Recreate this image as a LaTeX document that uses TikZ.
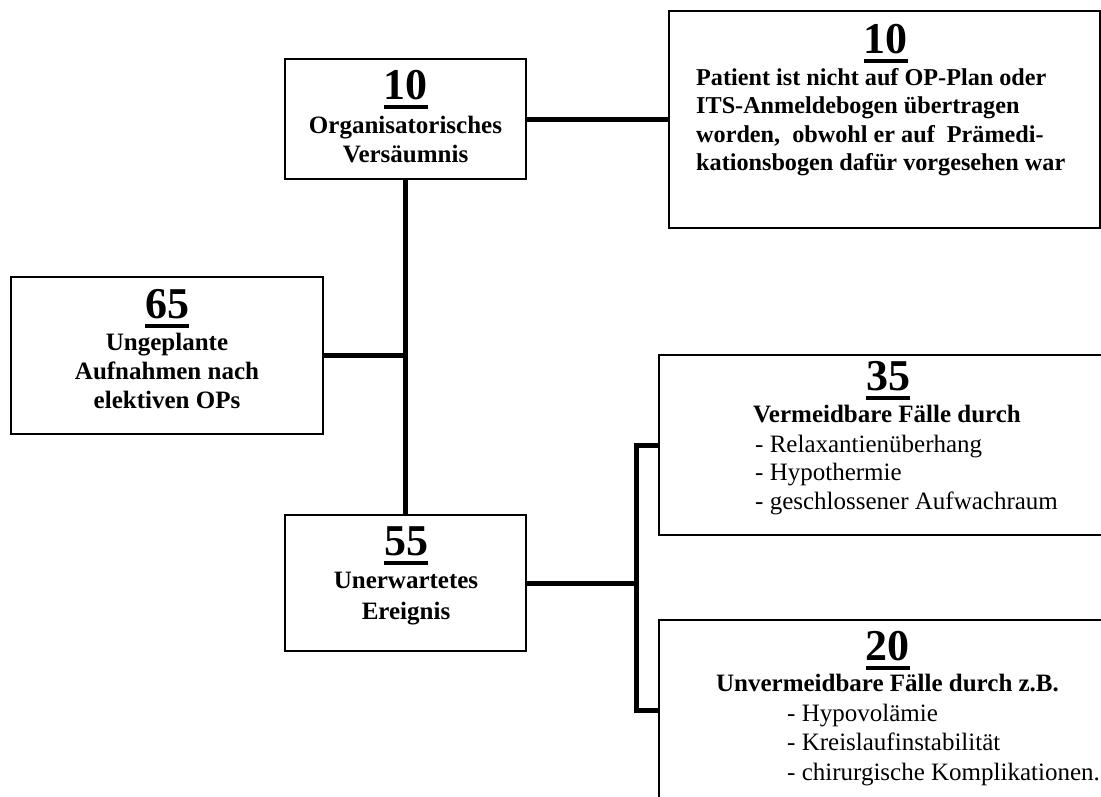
\documentclass[tikz,border=0pt]{standalone}
\usepackage{fontspec}
\setmainfont{Liberation Serif}
\newcommand\unum[1]{\setbox0\hbox{#1}\rlap{\raisebox{-10pt}{\rule{\wd0}{4.5pt}}}\box0}
\begin{document}
\begin{tikzpicture}[x=1pt,y=-1pt,
  box/.style={draw, line width=1.5pt, inner sep=0pt},
  conn/.style={line width=5pt},
  num/.style={font=\fontsize{44}{44}\selectfont\bfseries, anchor=base, inner sep=0pt},
  bt/.style={font=\fontsize{25}{28}\selectfont\bfseries, anchor=base, inner sep=0pt},
  btl/.style={font=\fontsize{24.2}{28}\selectfont\bfseries, anchor=base west, inner sep=0pt},
  rt/.style={font=\fontsize{25}{28}\selectfont, anchor=base west, inner sep=0pt}]
\useasboundingbox (0,0) rectangle (1101,796);
\clip (0,0) rectangle (1101,796);
\fill[white] (0,0) rectangle (1101,796);

% boxes
\node[box, minimum width=241pt, minimum height=120pt] (A) at (405.5,119) {};
\node[box, minimum width=431pt, minimum height=217pt] (B) at (884.5,119.5) {};
\node[box, minimum width=312pt, minimum height=157pt] (C) at (167,355.5) {};
\node[box, minimum width=241pt, minimum height=136pt] (D) at (405.5,583) {};
\node[box, minimum width=451pt, minimum height=180pt] (E) at (884.5,445) {};
\node[box, minimum width=451pt, minimum height=180pt] (F) at (884.5,710) {};

% connectors
\coordinate (bx) at (636,583);
\draw[conn] (A.east) -- (A.east -| B.west);
\draw[conn] (A.south) -- (D.north);
\draw[conn] (C.east) -- (C.east -| A.south);
\draw[conn] (D.east) -- (bx);
\draw[conn] (E.west) -| (bx) |- (F.west);

% box A
\node[num] (a0) at (405.5,99) {\unum{10}};
\node[bt] (a1) at (405.5,133) {Organisatorisches};
\node[bt] (a2) at (405.5,162) {Versäumnis};

% box B
\node[num] (b0) at (885.5,53) {\unum{10}};
\node[btl] (b1) at (696,85) {Patient ist nicht auf OP-Plan oder};
\node[btl] (b2) at (696,113.5) {ITS-Anmeldebogen übertragen};
\node[btl] (b3) at (696,142) {worden,\ \ obwohl er auf\ \ Prämedi-};
\node[btl] (b4) at (696,170.5) {kationsbogen dafür vorgesehen war};

% box C
\node[num] (c0) at (167,318) {\unum{65}};
\node[bt] (c1) at (167,350.5) {Ungeplante};
\node[bt] (c2) at (167,379.3) {Aufnahmen nach};
\node[bt] (c3) at (167,408.3) {elektiven OPs};

% box D
\node[num] (d0) at (406,555) {\unum{55}};
\node[bt] (d1) at (406,588.3) {Unerwartetes};
\node[bt] (d2) at (406,619.3) {Ereignis};

% box E
\node[num] (e0) at (888,390) {\unum{35}};
\node[bt] (e1) at (887,422.7) {Vermeidbare Fälle durch};
\node[rt] (e2) at (755,452.7) {- Relaxantienüberhang};
\node[rt] (e3) at (755,480.7) {- Hypothermie};
\node[rt] (e4) at (755,509) {- geschlossener Aufwachraum};

% box F
\node[num] (f0) at (887.5,660) {\unum{20}};
\node[bt] (f1) at (887.5,691.7) {Unvermeidbare Fälle durch z.B.};
\node[rt] (f2) at (787,721.7) {- Hypovolämie};
\node[rt] (f3) at (787,750.7) {- Kreislaufinstabilität};
\node[rt] (f4) at (787,780) {- chirurgische Komplikationen.};
\end{tikzpicture}
\end{document}
